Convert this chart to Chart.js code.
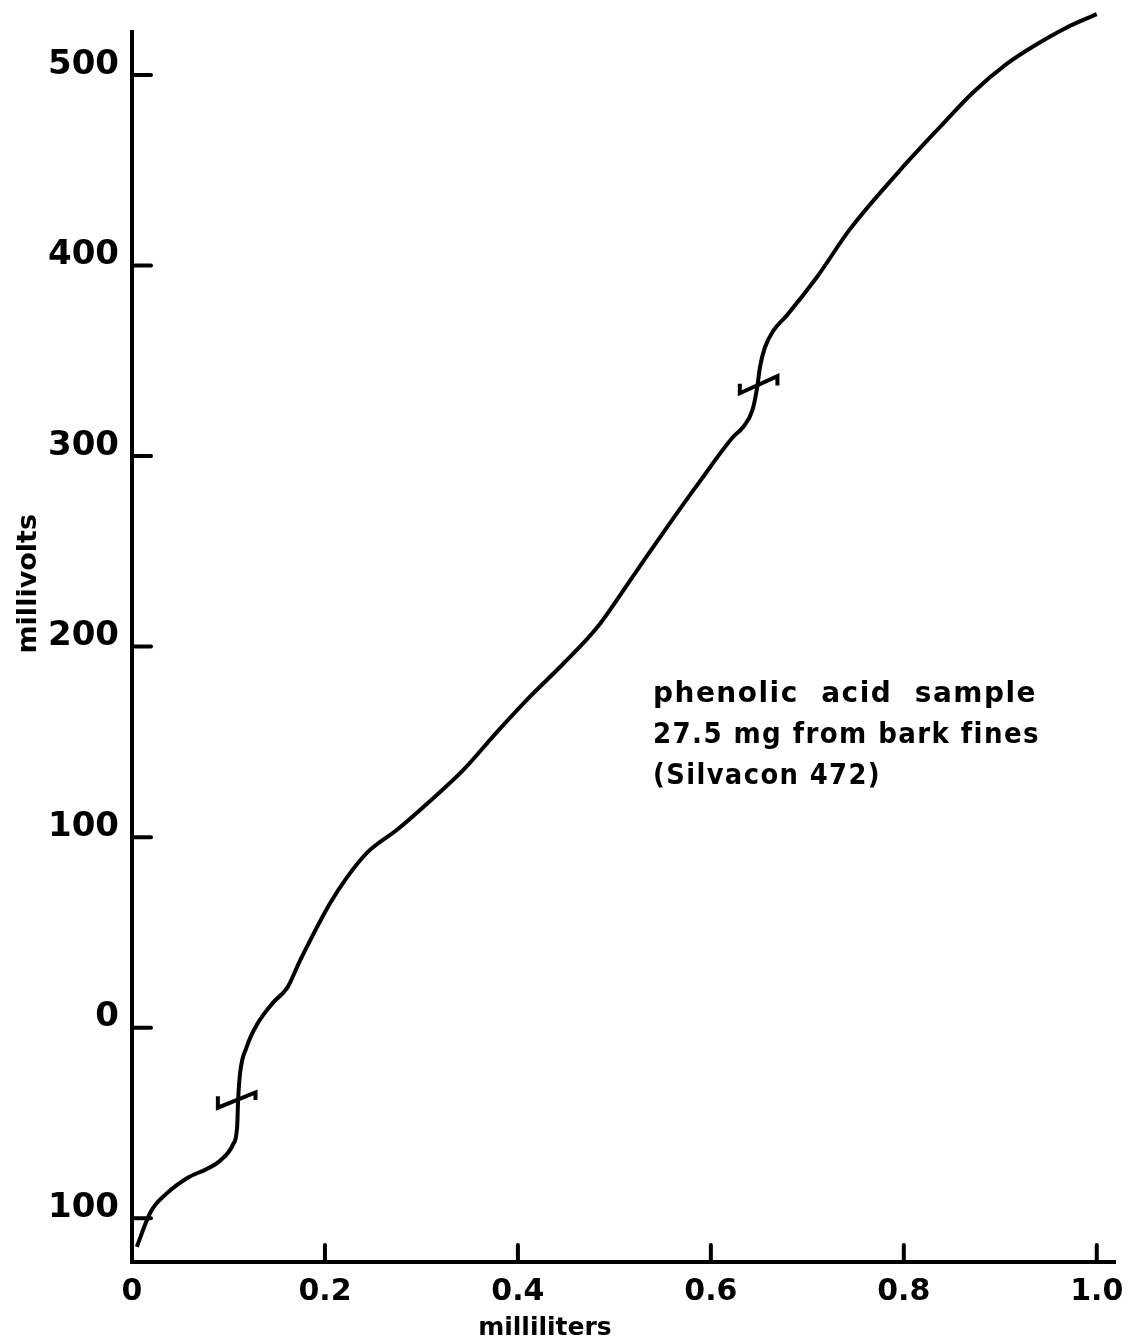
<!DOCTYPE html>
<html lang="en">
<head>
    <meta charset="UTF-8">
    <meta name="viewport" content="width=device-width, initial-scale=1.0">
    <script src="https://cdn.jsdelivr.net/npm/chart.js"></script>
    <title>Titration curve</title>
    <style>
        body { margin: 0; background: #fff; }
        #wrap { width: 1133px; height: 1342px; position: relative; }
    </style>
</head>
<body>
    <div id="wrap"><canvas id="myChart"></canvas></div>

    <script>
        // axis ticks, as printed on the figure (the lowest one reads "100", no minus sign)
        const xTicks = [0, 0.2, 0.4, 0.6, 0.8, 1.0];
        const xTickLabels = ['0', '0.2', '0.4', '0.6', '0.8', '1.0'];
        const yTicks = [-100, 0, 100, 200, 300, 400, 500];
        const yTickLabels = ['100', '0', '100', '200', '300', '400', '500'];

        // titration curve (milliliters / millivolts)
        const curveMl = [0.005, 0.019, 0.036, 0.057, 0.078, 0.091, 0.105, 0.109, 0.110, 0.112,
            0.119, 0.130, 0.146, 0.161, 0.174, 0.205, 0.223, 0.244, 0.275, 0.309,
            0.343, 0.378, 0.413, 0.447, 0.482, 0.518, 0.555, 0.589, 0.623, 0.633,
            0.643, 0.648, 0.651, 0.656, 0.665, 0.679, 0.710, 0.744, 0.796, 0.838,
            0.872, 0.907, 0.934, 0.969, 1.000];
        const curveMv = [-115, -97, -87, -79, -74, -70, -61, -52, -38, -24,
            -10, 2, 13, 21, 35, 65, 79, 92, 104, 119,
            135, 155, 174, 191, 210, 236, 263, 287, 310, 315,
            324, 336, 347, 357, 366, 374, 394, 419, 450, 473,
            491, 506, 515, 525, 532];

        // little hand-drawn marks at the two end points (null splits them)
        const markMl = [0.089, 0.089, 0.128, 0.128, null, 0.630, 0.630, 0.669, 0.669];
        const markMv = [-36, -42, -34, -38, null, 338, 333, 342, 337];

        const noteLines = ['phenolic  acid  sample', '27.5 mg from bark fines', '(Silvacon 472)'];
        const noteWidths = [384, 387, 228];
        const xTitle = 'milliliters';
        const yTitle = 'millivolts';

        const FONT = "'DejaVu Sans', sans-serif";

        const curveData = curveMl.map(function(v, i) { return { x: v, y: curveMv[i] }; });
        const markData = markMl.map(function(v, i) { return { x: v === null ? 0.5 : v, y: markMv[i] }; });

        const extras = {
            id: 'extras',
            afterDraw: function(chart) {
                const ctx = chart.ctx;
                const xs = chart.scales.x;
                const ys = chart.scales.y;
                ctx.save();
                ctx.strokeStyle = '#000';
                ctx.lineWidth = 4;
                ctx.lineCap = 'round';
                // inward tick marks
                yTicks.forEach(function(v) {
                    const p = ys.getPixelForValue(v);
                    ctx.beginPath();
                    ctx.moveTo(xs.left, p);
                    ctx.lineTo(xs.left + 19, p);
                    ctx.stroke();
                });
                xTicks.forEach(function(v) {
                    if (v === 0) return;
                    const p = xs.getPixelForValue(v);
                    ctx.beginPath();
                    ctx.moveTo(p, ys.bottom);
                    ctx.lineTo(p, ys.bottom - 17);
                    ctx.stroke();
                });

                ctx.fillStyle = '#000';
                // x title
                ctx.font = 'bold 25px ' + FONT;
                ctx.textAlign = 'center';
                ctx.textBaseline = 'alphabetic';
                ctx.fillText(xTitle, xs.getPixelForValue(0.428), 1335);
                // y title
                ctx.save();
                ctx.font = 'bold 27px ' + FONT;
                ctx.translate(36, ys.getPixelForValue(233));
                ctx.rotate(-Math.PI / 2);
                ctx.fillText(yTitle, 0, 0);
                ctx.restore();

                // note
                ctx.font = 'bold 28px ' + FONT;
                ctx.letterSpacing = '1.5px';
                ctx.textAlign = 'left';
                const nx = xs.getPixelForValue(0.540);
                const ny = ys.getPixelForValue(171);
                noteLines.forEach(function(line, i) {
                    ctx.fillText(line, nx, ny + i * 41, noteWidths[i]);
                });
                ctx.restore();
            }
        };

        new Chart('myChart', {
            type: 'scatter',
            data: {
                datasets: [{
                    label: 'titration',
                    data: curveData,
                    showLine: true,
                    borderColor: '#000',
                    borderWidth: 4,
                    pointRadius: 0,
                    cubicInterpolationMode: 'monotone',
                    clip: false
                }, {
                    label: 'end points',
                    data: markData,
                    showLine: true,
                    borderColor: '#000',
                    borderWidth: 4,
                    pointRadius: 0,
                    tension: 0,
                    spanGaps: false,
                    clip: false
                }]
            },
            plugins: [extras],
            options: {
                responsive: true,
                maintainAspectRatio: false,
                animation: false,
                layout: { padding: { top: 32, right: 18, left: 0, bottom: 0 } },
                plugins: {
                    legend: { display: false },
                    tooltip: { enabled: false }
                },
                scales: {
                    x: {
                        type: 'linear',
                        min: 0,
                        max: 1.0189,
                        afterBuildTicks: function(scale) {
                            scale.ticks = xTicks.map(function(v) { return { value: v }; });
                        },
                        afterFit: function(scale) {
                            scale.height = 80;
                            scale.paddingLeft = 0;
                            scale.paddingRight = 0;
                        },
                        border: { display: true, width: 4, color: '#000' },
                        grid: { drawOnChartArea: false, drawTicks: false },
                        ticks: {
                            padding: 12,
                            color: '#000',
                            font: { family: FONT, size: 30, weight: 'bold' },
                            callback: function(v) {
                                const i = xTicks.indexOf(v);
                                return i >= 0 ? xTickLabels[i] : '';
                            }
                        }
                    },
                    y: {
                        type: 'linear',
                        min: -123,
                        max: 522.6,
                        afterBuildTicks: function(scale) {
                            scale.ticks = yTicks.map(function(v) { return { value: v }; });
                        },
                        afterFit: function(scale) {
                            scale.width = 132;
                            scale.paddingTop = 0;
                            scale.paddingBottom = 0;
                        },
                        border: { display: true, width: 4, color: '#000' },
                        grid: { drawOnChartArea: false, drawTicks: false },
                        ticks: {
                            padding: 13,
                            labelOffset: -10,
                            color: '#000',
                            font: { family: FONT, size: 34, weight: 'bold' },
                            callback: function(v) {
                                const i = yTicks.indexOf(v);
                                return i >= 0 ? yTickLabels[i] : '';
                            }
                        }
                    }
                }
            }
        });
    </script>
</body>
</html>
